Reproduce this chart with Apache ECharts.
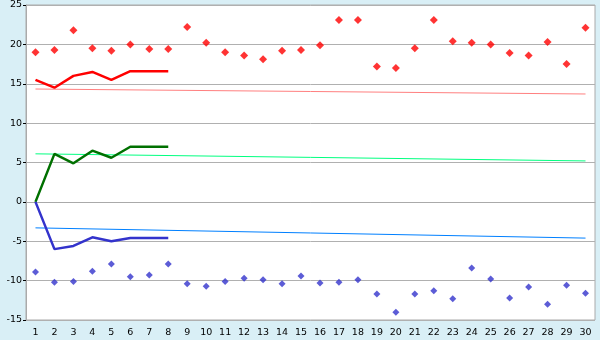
<!DOCTYPE html>
<html><head><meta charset="utf-8">
<script src="https://cdn.jsdelivr.net/npm/echarts@6/dist/echarts.min.js"></script>
<style>html,body{margin:0;padding:0;background:#d9eff6}#c{width:600px;height:340px}</style>
</head><body><div id="c"></div>
<script>
const categories = Array.from({length:30},(_,i)=>String(i+1));
const redPoints = [19.0,19.3,21.8,19.5,19.2,20.0,19.4,19.4,22.2,20.2,19.0,18.6,18.1,19.2,19.3,19.9,23.1,23.1,17.2,17.0,19.5,23.1,20.4,20.2,20.0,18.9,18.6,20.3,17.5,22.1];
const bluePoints = [-8.9,-10.2,-10.1,-8.8,-7.9,-9.5,-9.3,-7.9,-10.4,-10.7,-10.1,-9.7,-9.9,-10.4,-9.4,-10.3,-10.2,-9.9,-11.7,-14.0,-11.7,-11.3,-12.3,-8.4,-9.8,-12.2,-10.8,-13.0,-10.6,-11.6];
const redThick = [15.5,14.5,16.0,16.5,15.5,16.6,16.6,16.6];
const greenThick = [0,6.1,4.9,6.5,5.6,7.0,7.0,7.0];
const blueThick = [0,-6.0,-5.6,-4.5,-5.0,-4.6,-4.6,-4.6];
const redThinEnds = [14.33,13.7];
const greenThinEnds = [6.1,5.2];
const blueThinEnds = [-3.3,-4.6];
const yTicks = {min:-15,max:25,interval:5};

function ends(e){const a=new Array(30).fill(null);a[0]=e[0];a[29]=e[1];return a;}
const font = 'DejaVu Sans';
const chart = echarts.init(document.getElementById('c'));
chart.setOption({
  animation:false,
  backgroundColor:'#d9eff6',
  grid:{left:26,right:5,top:5,bottom:20,show:true,backgroundColor:'#ffffff',borderColor:'#aaaaaa',borderWidth:1},
  xAxis:{type:'category',data:categories,boundaryGap:true,
    axisLine:{lineStyle:{color:'#aaaaaa'}},
    axisTick:{alignWithLabel:true,length:4,lineStyle:{color:'#000'}},
    axisLabel:{color:'#000',fontFamily:font,fontSize:9.5,margin:8,interval:0},
    splitLine:{show:false}},
  yAxis:{type:'value',min:yTicks.min,max:yTicks.max,interval:yTicks.interval,
    axisLine:{show:true,lineStyle:{color:'#aaaaaa'}},
    axisTick:{show:true,length:3,lineStyle:{color:'#000'}},
    axisLabel:{color:'#000',fontFamily:font,fontSize:9.5,margin:4},
    splitLine:{lineStyle:{color:'#b0b0b0',width:1}}},
  series:[
    {type:'line',data:ends(redThinEnds),connectNulls:true,symbol:'none',lineStyle:{color:'#ff8080',width:1},z:2},
    {type:'line',data:ends(greenThinEnds),connectNulls:true,symbol:'none',lineStyle:{color:'#00ff80',width:1},z:2},
    {type:'line',data:ends(blueThinEnds),connectNulls:true,symbol:'none',lineStyle:{color:'#0080ff',width:1},z:2},
    {type:'line',data:redThick,symbol:'none',lineStyle:{color:'#ff0000',width:2.5},z:3},
    {type:'line',data:greenThick,symbol:'none',lineStyle:{color:'#007000',width:2.5},z:3},
    {type:'line',data:blueThick,symbol:'none',lineStyle:{color:'#3333cc',width:2.5},z:3},
    {type:'scatter',data:redPoints,symbol:'diamond',symbolSize:8,itemStyle:{color:'#ff0000'},z:4},
    {type:'scatter',data:bluePoints,symbol:'diamond',symbolSize:7,itemStyle:{color:'#3333cc'},z:4}
  ]
});
</script></body></html>
